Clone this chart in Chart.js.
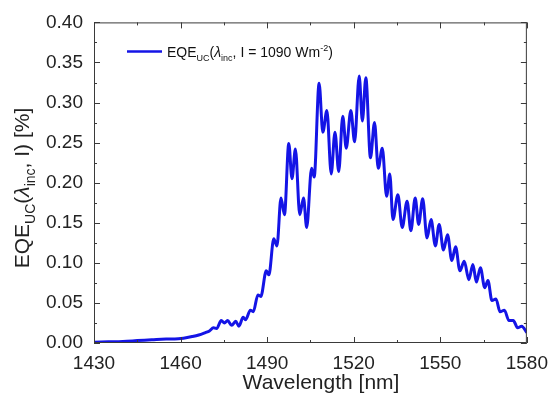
<!DOCTYPE html>
<html>
<head>
<meta charset="utf-8">
<script src="https://cdn.jsdelivr.net/npm/chart.js@4"></script>
<style>
  body { margin: 0; background: #fff; }
  #wrap { width: 557px; height: 405px; }
</style>
</head>
<body>
<div id="wrap"><canvas id="eqe"></canvas></div>
<script>
// wavelength in nm, EQE in %
const wavelength = [1430, 1435, 1440, 1445, 1450, 1455, 1458, 1461, 1464, 1466.3, 1468.6, 1470, 1471.4, 1472.5,
  1474.1, 1475.2, 1476.3, 1477.7, 1479.1, 1480.2, 1481.7, 1482.5, 1484.2, 1485.2, 1486.8, 1487.8, 1489.7, 1490.6,
  1492.3, 1493.4, 1494.8, 1496, 1497.5, 1498.6, 1499.8, 1501.3, 1502.6, 1503.7, 1505.4, 1506.3, 1508, 1509.3,
  1510.7, 1512.2, 1513.5, 1514.8, 1516.2, 1517.4, 1519, 1520.3, 1521.9, 1523, 1524.2, 1525.8, 1527.2, 1528.5,
  1529.9, 1531.4, 1532.5, 1533.6, 1535.3, 1536.8, 1538.5, 1539.8, 1541.3, 1542.5, 1543.9, 1545.4, 1546.8, 1548.3,
  1549.6, 1551.1, 1552.5, 1554, 1555.3, 1556.8, 1558.3, 1559.9, 1561.3, 1562.5, 1563.9, 1565.4, 1566.5, 1567.9,
  1569.3, 1570.7, 1572.2, 1573.8, 1575.3, 1576.8, 1578.2, 1580];
const eqe = [0.001, 0.0015, 0.002, 0.003, 0.004, 0.005, 0.005, 0.006, 0.008, 0.010, 0.013, 0.015, 0.019, 0.018,
  0.028, 0.025, 0.028, 0.022, 0.027, 0.021, 0.032, 0.029, 0.041, 0.039, 0.060, 0.058, 0.090, 0.085,
  0.130, 0.121, 0.181, 0.160, 0.249, 0.205, 0.242, 0.160, 0.181, 0.144, 0.218, 0.207, 0.324, 0.263,
  0.290, 0.211, 0.263, 0.214, 0.283, 0.243, 0.290, 0.251, 0.333, 0.277, 0.331, 0.231, 0.275, 0.218,
  0.243, 0.183, 0.211, 0.154, 0.185, 0.144, 0.177, 0.140, 0.181, 0.148, 0.180, 0.131, 0.154, 0.121,
  0.148, 0.116, 0.135, 0.103, 0.120, 0.090, 0.102, 0.079, 0.098, 0.076, 0.094, 0.069, 0.078, 0.053,
  0.055, 0.039, 0.041, 0.028, 0.028, 0.019, 0.021, 0.013];
const xTickValues = [1430, 1460, 1490, 1520, 1550, 1580];
const yTickValues = [0, 0.05, 0.10, 0.15, 0.20, 0.25, 0.30, 0.35, 0.40];

const FONT = '"Liberation Sans", Arial, sans-serif';
const LINE_COLOR = '#1414e6';

// draw text pieces one after another, some smaller and shifted (sub/superscript)
function richWidth(ctx, parts) {
  let w = 0;
  parts.forEach(p => { ctx.font = (p.italic ? 'italic ' : '') + p.size + 'px ' + FONT; w += ctx.measureText(p.t).width; });
  return w;
}
function drawRich(ctx, parts, x, y) {
  parts.forEach(p => {
    ctx.font = (p.italic ? 'italic ' : '') + p.size + 'px ' + FONT;
    ctx.fillText(p.t, x, y + (p.dy || 0));
    x += ctx.measureText(p.t).width;
  });
}

const decor = {
  id: 'decor',
  afterDraw(chart) {
    const ctx = chart.ctx;
    const a = chart.chartArea;
    const xs = chart.scales.x, ys = chart.scales.y;
    ctx.save();
    // frame
    ctx.strokeStyle = '#3a3a3a';
    ctx.lineWidth = 1;
    ctx.strokeRect(a.left + 0.5, a.top + 0.5, a.right - a.left - 1, a.bottom - a.top - 1);
    // inward ticks, major + minor
    ctx.beginPath();
    for (let v = 1430; v <= 1580; v += 15) {
      const px = Math.round(xs.getPixelForValue(v)) + 0.5;
      const len = (v - 1430) % 30 === 0 ? 6 : 3;
      ctx.moveTo(px, a.bottom); ctx.lineTo(px, a.bottom - len);
      ctx.moveTo(px, a.top); ctx.lineTo(px, a.top + len);
    }
    for (let i = 0; i <= 16; i++) {
      const py = Math.round(ys.getPixelForValue(i * 0.025)) + 0.5;
      const len = i % 2 === 0 ? 6 : 3;
      ctx.moveTo(a.left, py); ctx.lineTo(a.left + len, py);
      ctx.moveTo(a.right, py); ctx.lineTo(a.right - len, py);
    }
    ctx.stroke();

    // legend
    ctx.strokeStyle = LINE_COLOR;
    ctx.lineWidth = 2.5;
    ctx.beginPath();
    ctx.moveTo(127, 51.5); ctx.lineTo(162, 51.5);
    ctx.stroke();
    ctx.fillStyle = '#111';
    ctx.textBaseline = 'alphabetic';
    ctx.textAlign = 'left';
    drawRich(ctx, [
      { t: 'EQE', size: 14 }, { t: 'UC', size: 9, dy: 4 }, { t: '(', size: 14 },
      { t: 'λ', size: 14, italic: true }, { t: 'inc', size: 9, dy: 4 },
      { t: ', I = 1090 Wm', size: 14 }, { t: '-2', size: 9, dy: -6 }, { t: ')', size: 14 }
    ], 167, 57);

    // x title
    ctx.font = '21px ' + FONT;
    ctx.textAlign = 'center';
    ctx.textBaseline = 'middle';
    ctx.fillStyle = '#222';
    ctx.fillText('Wavelength [nm]', 321, 383);

    // y title, rotated
    const yParts = [
      { t: 'EQE', size: 21 }, { t: 'UC', size: 14, dy: 6 }, { t: '(', size: 21 },
      { t: 'λ', size: 21, italic: true }, { t: 'inc', size: 14, dy: 6 }, { t: ', I) [%]', size: 21 }
    ];
    ctx.translate(29, 188);
    ctx.rotate(-Math.PI / 2);
    ctx.textAlign = 'left';
    ctx.textBaseline = 'alphabetic';
    drawRich(ctx, yParts, -richWidth(ctx, yParts) / 2, 0);
    ctx.restore();
  }
};

new Chart(document.getElementById('eqe'), {
  type: 'line',
  data: {
    datasets: [{
      data: wavelength.map((w, i) => ({ x: w, y: eqe[i] })),
      borderColor: LINE_COLOR,
      borderWidth: 3,
      pointRadius: 0,
      cubicInterpolationMode: 'monotone',
      fill: false
    }]
  },
  options: {
    responsive: true,
    maintainAspectRatio: false,
    animation: false,
    layout: { padding: { top: 19, right: 25, left: 0, bottom: 0 } },
    plugins: { legend: { display: false }, tooltip: { enabled: false } },
    scales: {
      x: {
        type: 'linear',
        min: 1430, max: 1580,
        afterBuildTicks: s => { s.ticks = xTickValues.map(v => ({ value: v })); },
        afterFit: s => { s.height = 62; },
        grid: { display: false, drawTicks: false },
        border: { display: false },
        ticks: { font: { family: FONT, size: 19 }, color: '#222', padding: 9, maxRotation: 0, callback: v => String(v) }
      },
      y: {
        min: 0, max: 0.4,
        afterBuildTicks: s => { s.ticks = yTickValues.map(v => ({ value: v })); },
        afterFit: s => { s.width = 94; },
        grid: { display: false, drawTicks: false },
        border: { display: false },
        ticks: { font: { family: FONT, size: 19 }, color: '#222', padding: 11, callback: v => v.toFixed(2) }
      }
    }
  },
  plugins: [decor]
});
</script>
</body>
</html>
